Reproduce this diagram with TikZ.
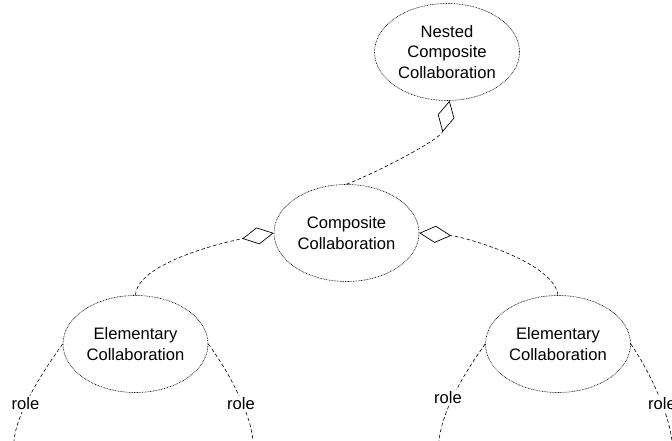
\documentclass[tikz,border=0pt]{standalone}
\usepackage{fontspec}
\setmainfont{Liberation Sans}
\usetikzlibrary{arrows.meta,shapes.geometric}
\begin{document}
\begin{tikzpicture}[x=1pt,y=-1pt,
  collab/.style={ellipse, draw, line width=0.6pt, dash pattern=on 0.8pt off 0.8pt,
    minimum width=145pt, minimum height=97pt, inner sep=0pt, align=center,
    font=\fontsize{16.6}{20.5}\selectfont},
  link/.style={draw, line width=0.6pt, dash pattern=on 3.5pt off 2.5pt},
  agg/.style={-{Diamond[length=32pt, width=17pt, fill=white, line width=0.7pt]}},
  rolelabel/.style={fill=white, inner sep=2pt, font=\fontsize{16.6}{20}\selectfont}
]
\useasboundingbox (0,0) rectangle (672,441);

% collaborations
\node[collab] (nested) at (447,52) {Nested\\Composite\\Collaboration};
\node[collab] (comp)   at (346.5,233) {Composite\\Collaboration};
\node[collab] (elemL)  at (135.5,344) {Elementary\\Collaboration};
\node[collab] (elemR)  at (558,344) {Elementary\\Collaboration};

% aggregation links
\draw[link, agg] (comp.north) .. controls (378,172) and (441,139) .. (nested.273);
\draw[link, agg] (elemL.north) .. controls (137,262) and (229.7,241) .. (comp.west);
\draw[link, agg] (elemR.north) .. controls (554,262) and (464,236.7) .. (comp.east);

% role ends, running off below
\coordinate (r1) at (14,441);
\coordinate (r2) at (253,441);
\coordinate (r3) at (439,441);
\coordinate (r4) at (672,441);
\draw[link] (elemL.west) .. controls (40,375) and (16,415) .. (r1);
\draw[link] (elemL.east) .. controls (231,375) and (251,415) .. (r2);
\draw[link] (elemR.west) .. controls (465,372) and (442,410) .. (r3);
\draw[link] (elemR.east) .. controls (652,375) and (669,415) .. (r4);

% role labels
\node[rolelabel] (role1) at (25.5,404) {role};
\node[rolelabel] (role2) at (241,404) {role};
\node[rolelabel] (role3) at (448,398) {role};
\node[rolelabel] (role4) at (662,404) {role};
\end{tikzpicture}
\end{document}
